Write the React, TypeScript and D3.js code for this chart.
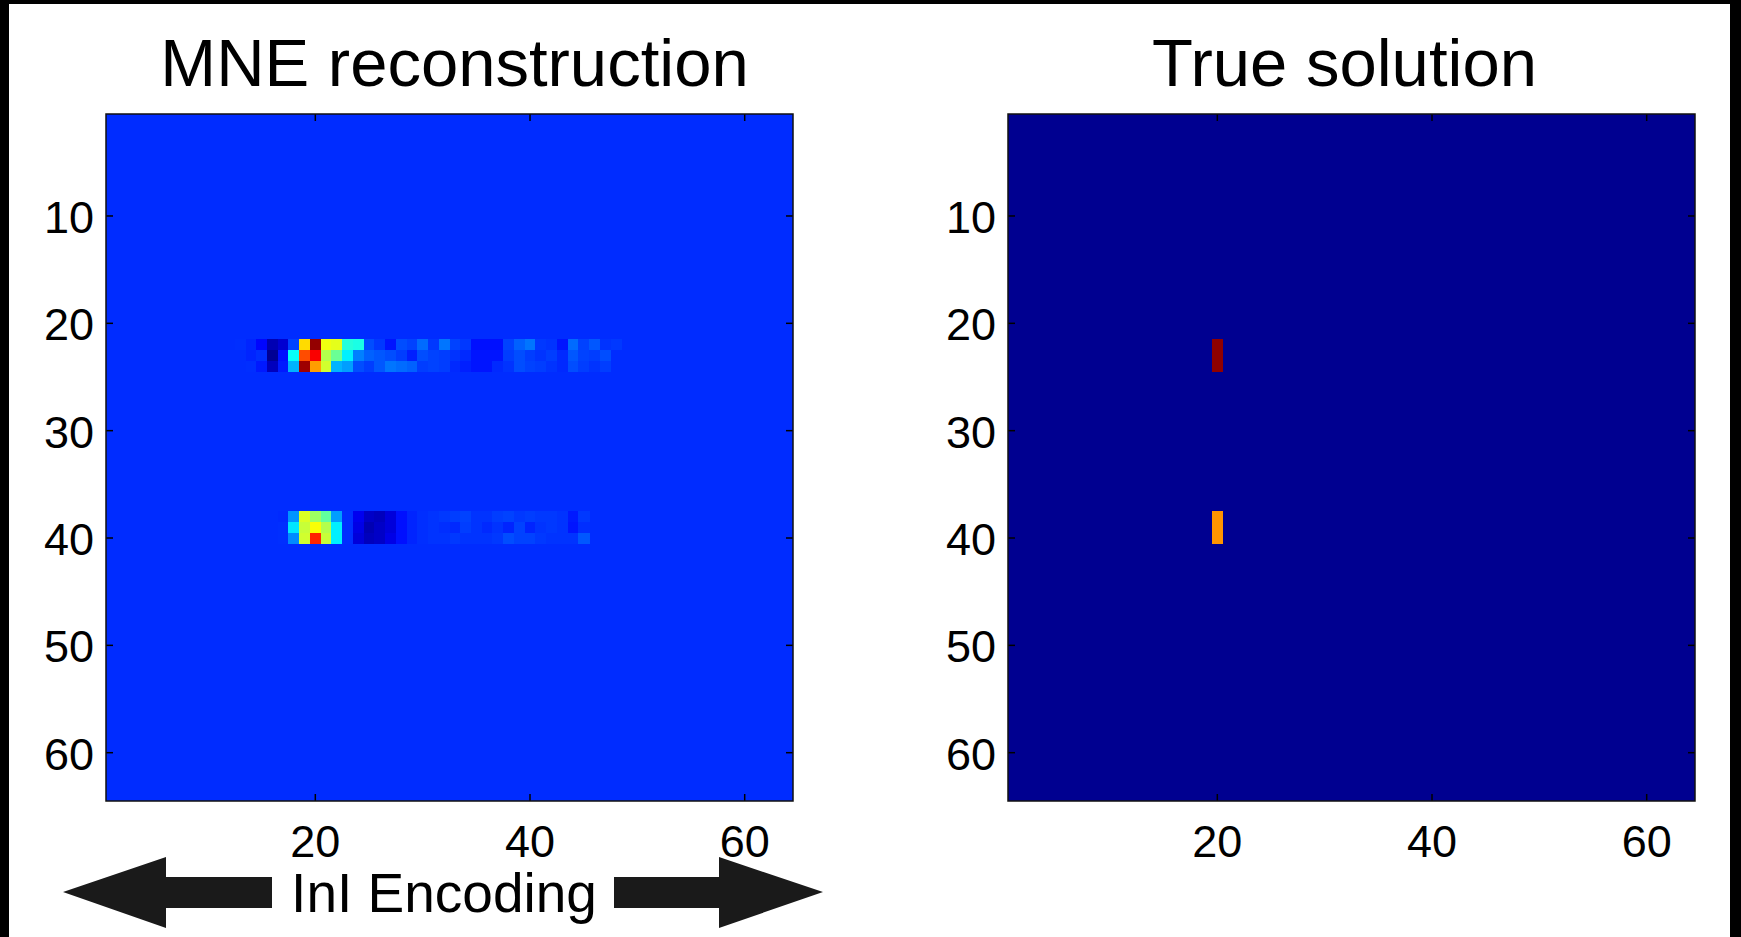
import React from "react";
import * as d3 from "d3";

// ---------- data ----------
const GRID_SIZE = 64;
const yTicks = [10, 20, 30, 40, 50, 60];
const xTicks = [20, 40, 60];

// MNE reconstruction: normalized colour index (0..1, jet) ; background level
const mneBackground = 0.168;
const band1StartCol = 13;
const mneRow22 = [0.17,0.16,0.13,0.05,0.08,0.19,0.66,0.98,0.61,0.6,0.41,0.4,0.2,0.18,0.145,0.2,0.19,0.23,0.18,0.24,0.19,0.18,0.14,0.14,0.14,0.19,0.22,0.24,0.18,0.175,0.145,0.23,0.19,0.21,0.175,0.18];
const mneRow23 = [0.168,0.16,0.17,0.02,0.14,0.38,0.8,0.88,0.55,0.48,0.36,0.25,0.22,0.21,0.2,0.185,0.155,0.2,0.19,0.185,0.175,0.165,0.145,0.145,0.145,0.185,0.2,0.185,0.175,0.185,0.165,0.21,0.19,0.185,0.2,0.168];
const mneRow24 = [0.168,0.17,0.15,0.06,0.15,0.3,0.97,0.72,0.58,0.3,0.28,0.2,0.185,0.21,0.24,0.23,0.22,0.185,0.19,0.185,0.165,0.155,0.145,0.145,0.165,0.175,0.2,0.19,0.185,0.175,0.165,0.2,0.185,0.175,0.185,0.168];
const band2StartCol = 17;
const mneRow38 = [0.165,0.27,0.59,0.53,0.47,0.28,0.17,0.11,0.07,0.06,0.09,0.14,0.16,0.17,0.175,0.18,0.185,0.19,0.175,0.175,0.185,0.19,0.18,0.185,0.18,0.18,0.175,0.15,0.18];
const mneRow39 = [0.17,0.35,0.57,0.62,0.55,0.36,0.17,0.1,0.05,0.07,0.09,0.14,0.16,0.17,0.175,0.17,0.165,0.185,0.175,0.165,0.175,0.16,0.19,0.16,0.175,0.18,0.175,0.145,0.17];
const mneRow40 = [0.17,0.26,0.58,0.84,0.57,0.36,0.17,0.09,0.06,0.07,0.1,0.14,0.16,0.17,0.175,0.175,0.18,0.175,0.175,0.175,0.18,0.2,0.19,0.19,0.18,0.175,0.175,0.175,0.21];

// True solution
const trueBackground = 0.016;
const trueCol = 20;
const trueRowsA = [22, 23, 24];
const trueValueA = 0.985;
const trueRowsB = [38, 39, 40];
const trueValueB = 0.73;

// ---------- helpers ----------
const jet = d3
  .scaleLinear<string>()
  .domain([0, 0.125, 0.375, 0.625, 0.875, 1])
  .range(["#000080", "#0000ff", "#00ffff", "#ffff00", "#ff0000", "#800000"])
  .interpolate(d3.interpolateRgb)
  .clamp(true);

type Cell = { row: number; col: number; v: number };

function bandCells(rows: { row: number; values: number[] }[], startCol: number): Cell[] {
  const out: Cell[] = [];
  rows.forEach((r) =>
    r.values.forEach((v, i) => out.push({ row: r.row, col: startCol + i, v }))
  );
  return out;
}

const mneCells: Cell[] = [
  ...bandCells(
    [
      { row: 22, values: mneRow22 },
      { row: 23, values: mneRow23 },
      { row: 24, values: mneRow24 },
    ],
    band1StartCol
  ),
  ...bandCells(
    [
      { row: 38, values: mneRow38 },
      { row: 39, values: mneRow39 },
      { row: 40, values: mneRow40 },
    ],
    band2StartCol
  ),
];

const trueCells: Cell[] = [
  ...trueRowsA.map((row) => ({ row, col: trueCol, v: trueValueA })),
  ...trueRowsB.map((row) => ({ row, col: trueCol, v: trueValueB })),
];

const FONT = "'Liberation Sans', Arial, Helvetica, sans-serif";
const SIZE = 687;
const TOP = 114;

function Panel({
  left,
  title,
  titleShift,
  background,
  cells,
}: {
  left: number;
  title: string;
  titleShift: number;
  background: number;
  cells: Cell[];
}) {
  const x = d3.scaleLinear().domain([0.5, GRID_SIZE + 0.5]).range([left, left + SIZE]);
  const y = d3.scaleLinear().domain([0.5, GRID_SIZE + 0.5]).range([TOP, TOP + SIZE]);
  const tick = 7;
  return (
    <g>
      <text
        x={left + SIZE / 2 + titleShift}
        y={86}
        textAnchor="middle"
        fontFamily={FONT}
        fontSize={67}
        fill="#000"
      >
        {title}
      </text>
      <rect x={left} y={TOP} width={SIZE} height={SIZE} fill={jet(background)} />
      <g shapeRendering="crispEdges">
        {cells.map((c, i) => (
          <rect
            key={i}
            x={x(c.col - 0.5)}
            y={y(c.row - 0.5)}
            width={x(c.col + 0.5) - x(c.col - 0.5) + 0.5}
            height={y(c.row + 0.5) - y(c.row - 0.5) + 0.5}
            fill={jet(c.v)}
          />
        ))}
      </g>
      {yTicks.map((t) => (
        <g key={"y" + t}>
          <line x1={left} x2={left + tick} y1={y(t)} y2={y(t)} stroke="#000" strokeWidth={1.5} />
          <line x1={left + SIZE} x2={left + SIZE - tick} y1={y(t)} y2={y(t)} stroke="#000" strokeWidth={1.5} />
          <text
            x={left - 12}
            y={y(t) + 17}
            textAnchor="end"
            fontFamily={FONT}
            fontSize={45}
            fill="#000"
          >
            {t}
          </text>
        </g>
      ))}
      {xTicks.map((t) => (
        <g key={"x" + t}>
          <line x1={x(t)} x2={x(t)} y1={TOP} y2={TOP + tick} stroke="#000" strokeWidth={1.5} />
          <line x1={x(t)} x2={x(t)} y1={TOP + SIZE} y2={TOP + SIZE - tick} stroke="#000" strokeWidth={1.5} />
          <text
            x={x(t)}
            y={857}
            textAnchor="middle"
            fontFamily={FONT}
            fontSize={45}
            fill="#000"
          >
            {t}
          </text>
        </g>
      ))}
      <rect x={left} y={TOP} width={SIZE} height={SIZE} fill="none" stroke="#111" strokeWidth={1.5} />
    </g>
  );
}

export default function App() {
  const arrowTop = 857;
  const arrowBottom = 928;
  const arrowMid = 892;
  const shaftTop = 877;
  const shaftBottom = 908;
  const leftArrow = [
    [63, arrowMid],
    [166, arrowTop],
    [166, shaftTop],
    [272, shaftTop],
    [272, shaftBottom],
    [166, shaftBottom],
    [166, arrowBottom],
  ];
  const rightArrow = [
    [823, arrowMid],
    [719, arrowTop],
    [719, shaftTop],
    [614, shaftTop],
    [614, shaftBottom],
    [719, shaftBottom],
    [719, arrowBottom],
  ];
  const line = d3.line();
  return (
    <svg
      width={1741}
      height={937}
      style={{ position: "absolute", left: 0, top: 0, display: "block" }}
    >
      <rect x={0} y={0} width={1741} height={937} fill="#000" />
      <rect x={9} y={4} width={1721} height={933} fill="#fff" />
      <Panel left={106} title="MNE reconstruction" titleShift={5} background={mneBackground} cells={mneCells} />
      <Panel left={1008} title="True solution" titleShift={-7} background={trueBackground} cells={trueCells} />
      <path d={line(leftArrow as [number, number][]) + "Z"} fill="#1a1a1a" />
      <path d={line(rightArrow as [number, number][]) + "Z"} fill="#1a1a1a" />
      <text x={444} y={912} textAnchor="middle" fontFamily={FONT} fontSize={55} fill="#000">
        InI Encoding
      </text>
    </svg>
  );
}
